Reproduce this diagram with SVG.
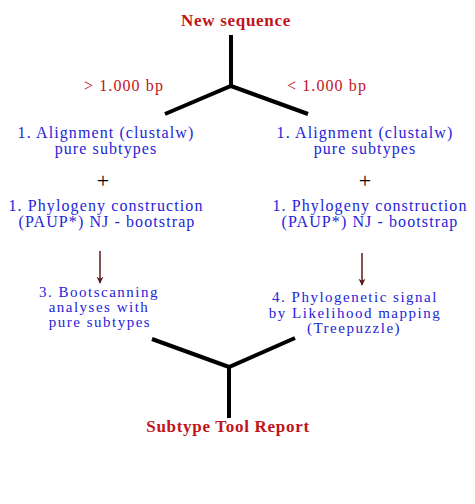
<svg xmlns="http://www.w3.org/2000/svg" width="475" height="504" viewBox="0 0 475 504">
<style>
text{font-family:"Liberation Serif","Times New Roman",serif;font-size:16px;letter-spacing:1.1px;text-anchor:middle}
.red{fill:#c0141c}
.b{font-weight:bold;font-size:17px;letter-spacing:0.7px}
.blue{fill:#2424d8}
.s{font-size:15px;letter-spacing:1.5px}
.plus{fill:#000;font-size:22px;letter-spacing:0}
.y{stroke:#000;stroke-width:4;fill:none;stroke-linejoin:miter}
.arr{stroke:#5a1a1a;stroke-width:1.5;fill:none}
</style>
<defs>
<marker id="ah" viewBox="0 0 10 10" refX="9" refY="5" markerWidth="7" markerHeight="10" markerUnits="userSpaceOnUse" orient="auto">
<path d="M0,0 L10,5 L0,10 L3,5 z" fill="#5a1a1a"/>
</marker>
</defs>
<rect width="475" height="504" fill="#fff"/>
<g id="connectors">
<path class="y" d="M231,35 V86 M165,114 L231,86 L308,114"/>
<path class="y" d="M152,339 L229,367 L295,338 M229,367 V418"/>
<line class="arr" x1="100" y1="251" x2="100" y2="283" marker-end="url(#ah)"/>
<line class="arr" x1="362" y1="253" x2="362" y2="285" marker-end="url(#ah)"/>
</g>
<g id="new-sequence"><text class="red b" x="236" y="26">New sequence</text></g>
<g id="label-gt"><text class="red" x="124" y="91">&gt; 1.000 bp</text></g>
<g id="label-lt"><text class="red" x="327" y="91">&lt; 1.000 bp</text></g>
<g id="left-alignment"><text class="blue" x="106" y="138">1. Alignment (clustalw)</text><text class="blue" x="106" y="154">pure subtypes</text></g>
<g id="left-plus"><text class="plus" x="103" y="188">+</text></g>
<g id="left-phylogeny"><text class="blue" x="106" y="211">1. Phylogeny construction</text><text class="blue" x="107" y="227">(PAUP*) NJ - bootstrap</text></g>
<g id="right-alignment"><text class="blue" x="365" y="138">1. Alignment (clustalw)</text><text class="blue" x="365" y="154">pure subtypes</text></g>
<g id="right-plus"><text class="plus" x="365" y="188">+</text></g>
<g id="right-phylogeny"><text class="blue" x="370" y="211">1. Phylogeny construction</text><text class="blue" x="370" y="227">(PAUP*) NJ - bootstrap</text></g>
<g id="bootscanning"><text class="blue s" x="99" y="297">3. Bootscanning</text><text class="blue s" x="99" y="312">analyses with</text><text class="blue s" x="100" y="327">pure subtypes</text></g>
<g id="likelihood"><text class="blue s" x="355" y="302">4. Phylogenetic signal</text><text class="blue s" x="355" y="318">by Likelihood mapping</text><text class="blue s" x="354" y="333">(Treepuzzle)</text></g>
<g id="report"><text class="red b" x="228" y="432">Subtype Tool Report</text></g>
</svg>
